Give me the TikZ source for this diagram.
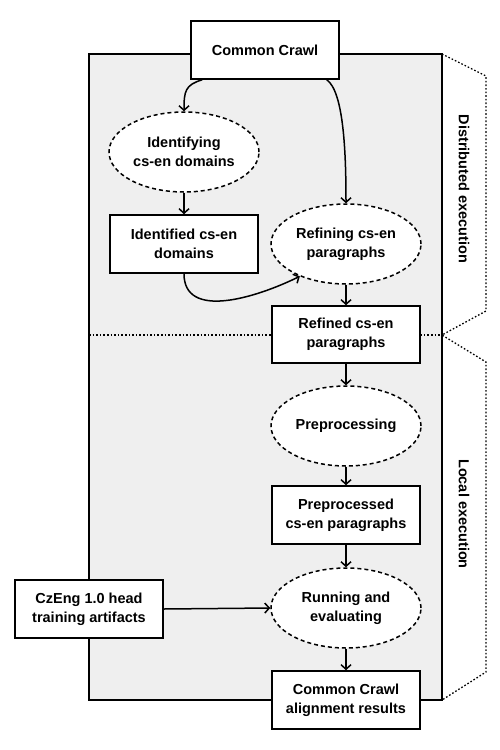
\documentclass[tikz,border=0pt]{standalone}
\usepackage{fontspec}
\setmainfont{Liberation Sans}
\usetikzlibrary{arrows.meta,shapes.geometric}
\begin{document}
\begin{tikzpicture}[x=1pt,y=-1pt,
  lbl/.style={font=\fontsize{14.5}{19}\selectfont\bfseries, align=center},
  boxnode/.style={lbl, draw, line width=1.6pt, fill=white, minimum width=148pt, minimum height=58pt, inner sep=0pt},
  procnode/.style={lbl, ellipse, draw, dashed, dash pattern=on 4pt off 3pt, line width=1.5pt, fill=white, minimum width=150pt, minimum height=80pt, inner sep=0pt},
  arr/.style={line width=1.5pt, -{Straight Barb[length=4.5pt,width=10pt]}},
  dotline/.style={line width=1.3pt, dash pattern=on 1.6pt off 2pt},
  sidelbl/.style={font=\fontsize{14.5}{18}\selectfont\bfseries, rotate=-90}
]
\useasboundingbox (0,0) rectangle (500,750);
% grey region
\draw[line width=1.6pt, fill={rgb,255:red,239;green,239;blue,239}] (89,54) rectangle (442,700);
\draw[dotline] (89,335) -- (442,335);
% brackets
\coordinate (d1) at (442,54);
\coordinate (d2) at (486,76);
\coordinate (d3) at (486,311);
\coordinate (d4) at (442,335);
\coordinate (l2) at (486,362);
\coordinate (l3) at (486,672);
\coordinate (l4) at (442,700);
\draw[dotline] (d1) -- (d2) -- (d3) -- (d4) -- (l2) -- (l3) -- (l4);
\node[sidelbl] (dist) at (464,189) {Distributed execution};
\node[sidelbl] (loc) at (464,514) {Local execution};
% nodes
\node[boxnode] (cc) at (265,50) {Common Crawl};
\node[procnode] (ident) at (184,152) {Identifying\\cs-en domains};
\node[boxnode] (identd) at (184,244) {Identified cs-en\\domains};
\node[procnode] (refining) at (346,244) {Refining cs-en\\paragraphs};
\node[boxnode, minimum height=57pt] (refined) at (346,334.5) {Refined cs-en\\paragraphs};
\node[procnode] (prep) at (346,426) {Preprocessing};
\node[boxnode] (prepd) at (346,515) {Preprocessed\\cs-en paragraphs};
\node[procnode] (run) at (346,608) {Running and\\evaluating};
\node[boxnode] (res) at (346,700) {Common Crawl\\alignment results};
\node[boxnode] (cz) at (89,609) {CzEng 1.0 head\\training artifacts};
% connectors
\draw[arr] ([xshift=12pt]cc.south west) .. controls +(-17,5) and +(0,-20) .. (ident.north);
\draw[arr] ([xshift=-13pt]cc.south east) .. controls +(17,12) and +(0,-50) .. (refining.north);
\draw[arr] (ident.south) -- (identd.north);
\draw[arr] (identd.south) .. controls +(0,46) and +(-45,22) .. (refining.-145);
\draw[arr] (refining.south) -- (refined.north);
\draw[arr] (refined.south) -- (prep.north);
\draw[arr] (prep.south) -- (prepd.north);
\draw[arr] (prepd.south) -- (run.north);
\draw[arr] (run.south) -- (res.north);
\draw[arr] (cz.east) -- (run.west);
\end{tikzpicture}
\end{document}
